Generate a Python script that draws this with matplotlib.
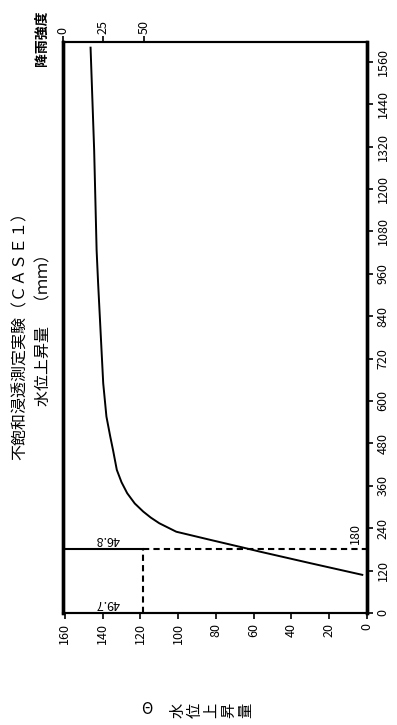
import matplotlib
matplotlib.use("Agg")
import matplotlib.pyplot as plt
import numpy as np

plt.rcParams['font.family'] = ['Noto Sans CJK JP', 'DejaVu Sans']

# water level rise curve
time_min = [108, 141, 174, 185, 207, 230, 254, 270, 287, 310, 339, 370, 405,
            461, 500, 556, 650, 744, 839, 933, 1027, 1310, 1600]
rise_mm = [2.5, 30, 57, 65.5, 83, 101, 110, 114.5, 118.5, 123, 127, 130,
           132.5, 134.5, 136, 138, 139.7, 140.6, 141.5, 142.4, 143.2, 144.5,
           146.4]

# rainfall block
rain_end = 180
rain_int = 49.7
rain_label = "46.8"

rise_ticks = list(range(0, 161, 20))
time_ticks = list(range(0, 1561, 120))
rain_ticks = [0, 25, 50]

W, H = 397, 725
fig = plt.figure(figsize=(W / 100, H / 100), dpi=100)
ax = fig.add_axes([63 / W, 1 - 613 / H, 304 / W, 571 / H])

ax.plot(rise_mm, time_min, color='black', lw=1.4, solid_joinstyle='round')
ax.set_xlim(161, 0)
ax.set_ylim(0, 1616)

ax.set_xticks(rise_ticks)
ax.set_xticklabels([str(v) for v in rise_ticks], rotation=90, fontsize=9)
ax.yaxis.tick_right()
ax.set_yticks(time_ticks)
ax.set_yticklabels([str(v) for v in time_ticks], rotation=90, fontsize=9,
                   va='center')
ax.tick_params(direction='out', length=4, width=1.2, pad=3)

# rain intensity axis on top
ax2 = ax.twiny()
ax2.set_xlim(0, 188)
ax2.set_xticks(rain_ticks)
ax2.set_xticklabels([str(v) for v in rain_ticks], rotation=90, fontsize=9)
ax2.tick_params(direction='out', length=4, width=1.2, pad=2)

ax2.plot([0, rain_int], [rain_end, rain_end], color='black', lw=1.5)
ax2.plot([rain_int, rain_int], [0, rain_end], color='black', lw=1.5,
         linestyle=(0, (3, 2)))
ax2.plot([rain_int, 188], [rain_end, rain_end], color='black', lw=1.5,
         linestyle=(0, (3, 2)))
ax2.text(27.5, 28, str(rain_int), rotation=180, ha='center', va='center',
         fontsize=9)
ax2.text(27.5, 207, rain_label, rotation=180, ha='center', va='center',
         fontsize=9)
ax.text(6, rain_end + 15, str(rain_end), rotation=90, ha='center',
        va='bottom', fontsize=9)

for a in (ax, ax2):
    a.spines['left'].set_linewidth(2.4)
    a.spines['right'].set_linewidth(2.4)
    a.spines['top'].set_linewidth(1.5)
    a.spines['bottom'].set_linewidth(1.5)

# titles
fig.text(20 / W, 1 - 332 / H, "不飽和浸透測定実験（ＣＡＳＥ１）", rotation=90,
         ha='center', va='center', fontsize=11.5)
fig.text(44 / W, 1 - 326 / H, "水位上昇量　（ｍｍ）", rotation=90,
         ha='center', va='center', fontsize=11.5)
fig.text(42 / W, 1 - 38 / H, "降雨強度", rotation=90, ha='center',
         va='center', fontsize=10, fontweight='bold')

# caption
fig.text(147 / W, 1 - 710 / H, "Θ", ha='center', va='center', fontsize=11)
cap_chars = ["水", "位", "上", "昇", "量"]
for i, ch in enumerate(cap_chars):
    fig.text((178 + i * 17) / W, 1 - 710 / H, ch, rotation=90, ha='center',
             va='center', fontsize=11)

fig.savefig("out.png", dpi=100)
